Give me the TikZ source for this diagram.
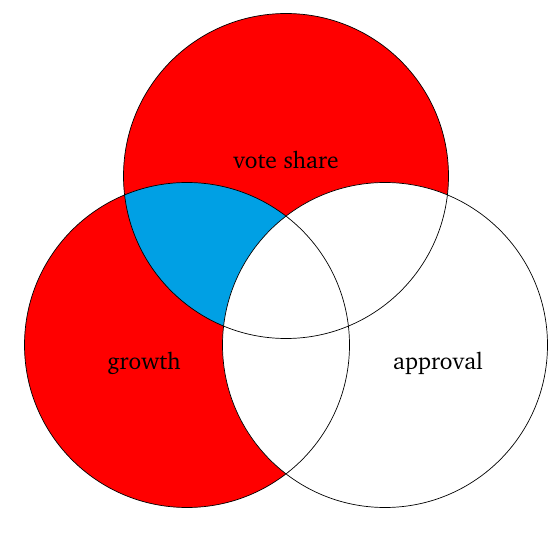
\documentclass[tikz,border=0pt]{standalone}
\usepackage[T1]{fontenc}
\usepackage{charter}
\definecolor{vred}{RGB}{255,0,0}
\definecolor{vblue}{RGB}{0,160,228}
\begin{document}
\begin{tikzpicture}[x=1pt,y=1pt,
  setline/.style={draw=black,line width=0.7pt},
  lbl/.style={font=\fontsize{23.5}{27}\selectfont,text=black,inner sep=0pt}]
\useasboundingbox (0,0) rectangle (560,555);
\coordinate (ct) at (286,379);
\coordinate (cl) at (187,210);
\coordinate (cr) at (385,210);
\def\rr{162.5}
\fill[vred] (ct) circle (\rr);
\fill[vred] (cl) circle (\rr);
\begin{scope}
  \clip (ct) circle (\rr);
  \fill[vblue] (cl) circle (\rr);
\end{scope}
\fill[white] (cr) circle (\rr);
\draw[setline] (ct) circle (\rr);
\draw[setline] (cl) circle (\rr);
\draw[setline] (cr) circle (\rr);
\node[lbl] (vs) at (286,395) {vote share};
\node[lbl] (gr) at (144,192) {growth};
\node[lbl] (ap) at (438,192) {approval};
\end{tikzpicture}
\end{document}
